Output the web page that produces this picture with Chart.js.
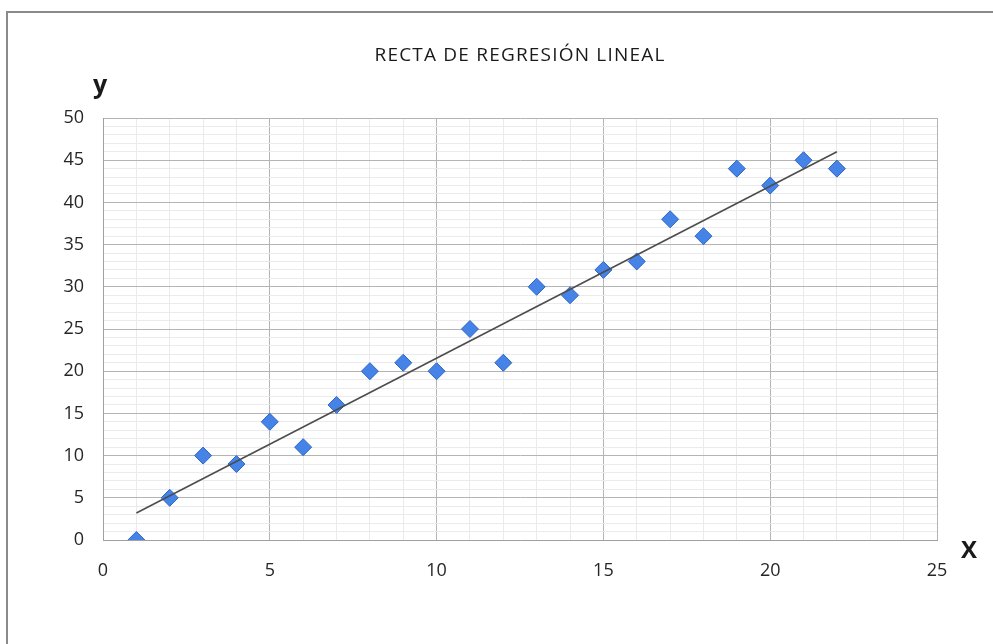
<!DOCTYPE html>
<html>
<head>
<meta charset="utf-8">
<script src="https://cdn.jsdelivr.net/npm/chart.js@4"></script>
<style>
  html, body { margin: 0; padding: 0; background: #fff; }
  #wrap { width: 993px; height: 644px; }
</style>
</head>
<body>
<div id="wrap"><canvas id="regChart" width="993" height="644"></canvas></div>
<script>
// Datos
const xValues = [1, 2, 3, 4, 5, 6, 7, 8, 9, 10, 11, 12, 13, 14, 15, 16, 17, 18, 19, 20, 21, 22];
const yValues = [0, 5, 10, 9, 14, 11, 16, 20, 21, 20, 25, 21, 30, 29, 32, 33, 38, 36, 44, 42, 45, 44];

// Extremos de la recta de regresión
const trendX = [1, 22];
const trendY = [3.2, 46.0];

const chartTitle = 'RECTA DE REGRESIÓN LINEAL';
const xAxisLabel = 'X';
const yAxisLabel = 'y';

const tickFont = { family: "'Open Sans', sans-serif", size: 18 };

// marco y textos extra (título, etiquetas de ejes)
const framePlugin = {
    id: 'frame',
    beforeDraw(chart) {
        const c = chart.ctx;
        c.save();
        c.fillStyle = '#fff';
        c.fillRect(0, 0, chart.width, chart.height);
        c.strokeStyle = '#8a8a8a';
        c.lineWidth = 2;
        c.strokeRect(7, 12, chart.width + 10, chart.height);
        c.restore();
    },
    afterDraw(chart) {
        const c = chart.ctx;
        const area = chart.chartArea;
        c.save();
        c.fillStyle = '#1a1a1a';
        c.textAlign = 'center';
        c.textBaseline = 'middle';
        c.font = "19px 'Open Sans', sans-serif";
        c.letterSpacing = '1.2px';
        c.fillText(chartTitle, 520, 56);
        c.letterSpacing = '0px';
        c.font = "bold 25px 'Open Sans', sans-serif";
        c.fillText(yAxisLabel, area.left - 3, 86);
        c.font = "bold 24px 'Open Sans', sans-serif";
        c.fillText(xAxisLabel, area.right + 32, 551);
        c.restore();
    }
};

function gridColor(ctx) {
    return ctx.tick && ctx.tick.value % 5 === 0 ? '#b4b4b4' : '#ebebeb';
}

function tickLabel(value) {
    return value % 5 === 0 ? value : '';
}

new Chart(document.getElementById('regChart'), {
    type: 'scatter',
    data: {
        datasets: [{
            type: 'line',
            label: 'Recta',
            data: trendX.map((x, i) => ({ x: x, y: trendY[i] })),
            borderColor: '#4d4d4d',
            borderWidth: 1.6,
            pointRadius: 0,
            fill: false,
            order: 0
        }, {
            label: 'Datos',
            data: xValues.map((x, i) => ({ x: x, y: yValues[i] })),
            pointStyle: 'rectRot',
            pointRadius: 8.5,
            backgroundColor: '#4683e6',
            borderColor: '#2f66c8',
            borderWidth: 1,
            order: 1
        }]
    },
    options: {
        responsive: false,
        animation: false,
        layout: { padding: { left: 0, right: 56, top: 118, bottom: 0 } },
        plugins: {
            legend: { display: false },
            title: { display: false },
            tooltip: { enabled: false }
        },
        scales: {
            x: {
                type: 'linear',
                min: 0,
                max: 25,
                afterFit(scale) { scale.height = 104; },
                grid: { color: gridColor, drawTicks: false },
                border: { color: '#a0a0a0', width: 1 },
                ticks: {
                    stepSize: 1,
                    autoSkip: false,
                    maxRotation: 0,
                    padding: 20,
                    color: '#262626',
                    font: tickFont,
                    callback: tickLabel
                }
            },
            y: {
                type: 'linear',
                min: 0,
                max: 50,
                afterFit(scale) { scale.width = 103; },
                grid: { color: gridColor, drawTicks: false },
                border: { color: '#a0a0a0', width: 1 },
                ticks: {
                    stepSize: 1,
                    autoSkip: false,
                    padding: 19,
                    color: '#262626',
                    font: tickFont,
                    callback: tickLabel
                }
            }
        }
    },
    plugins: [framePlugin]
});
</script>
</body>
</html>
